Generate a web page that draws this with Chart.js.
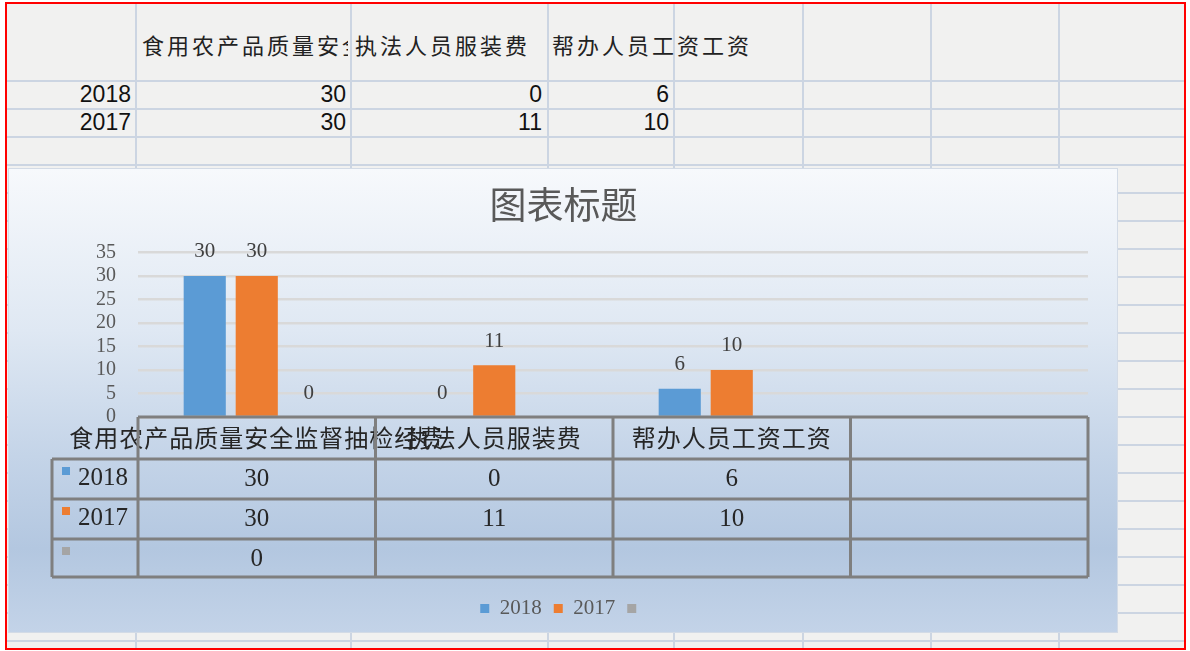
<!DOCTYPE html>
<html>
<head>
<meta charset="utf-8">
<script src="https://cdn.jsdelivr.net/npm/chart.js@4/dist/chart.umd.min.js"></script>
<style>
  body { margin: 0; width: 1190px; height: 651px; overflow: hidden; background: #fff; position: relative; }
  #sheet { position: absolute; left: 5px; top: 2px; width: 1181px; height: 648px; background: #f1f1f0; overflow: hidden; }
  .vl { position: absolute; top: 0; width: 2px; height: 100%; background: #ccd5e2; }
  .hl { position: absolute; left: 0; width: 100%; height: 2px; background: #ccd5e2; }
  .cell { position: absolute; white-space: nowrap; color: #111; }
  .num { font: 23px "Liberation Sans", Arial, sans-serif; text-align: right; }
  .cjk { font: 22px "Noto Sans CJK SC", sans-serif; letter-spacing: 3px; color: #222; overflow: hidden; }
  #redbox { position: absolute; left: 5px; top: 2px; width: 1181px; height: 648px; border: 2px solid #f00; box-sizing: border-box; pointer-events: none; }
  #frame { position: absolute; left: 8px; top: 168px; width: 1110px; height: 465px; box-sizing: border-box;
           border: 1px solid #d3dbe6;
           background: linear-gradient(to bottom, #f7f9fc 0%, #dfe8f3 35%, #c4d4e8 62%, #b3c7e0 82%, #c3d3e8 100%); }
  #wrap { position: absolute; left: 9px; top: 168px; width: 1109px; height: 465px; }
</style>
</head>
<body>
<div id="sheet"></div>
<div id="frame"></div>
<div id="wrap"><canvas id="grafico"></canvas></div>
<div id="redbox"></div>
<script>
// ── Data ─────────────────────────────────────────────────────────────
const categorias = ['食用农产品质量安全监督抽检经费', '执法人员服装费', '帮办人员工资工资', ''];
const series     = ['2018', '2017', ''];
const v2018      = [30, 0, 6, null];
const v2017      = [30, 11, 10, null];
const vExtra     = [0, null, null, null];
const yMin = 0, yMax = 35, yStep = 5;

const CORES = { blue: '#5b9bd5', orange: '#ed7d31', gray: '#a5a5a5' };
const SERIF = '"Liberation Serif", "Noto Sans CJK SC", serif';
const CJK   = '"Noto Sans CJK SC", sans-serif';

// ── Spreadsheet behind the chart ─────────────────────────────────────
(function planilha() {
  const sheet = document.getElementById('sheet');
  const ox = 5, oy = 2;
  const colLines = [135, 350, 547, 673, 802, 930, 1058];
  colLines.forEach(x => {
    const d = document.createElement('div'); d.className = 'vl'; d.style.left = (x - ox) + 'px'; sheet.appendChild(d);
  });
  for (let y = 80; y < 651; y += 28) {
    const d = document.createElement('div'); d.className = 'hl'; d.style.top = (y - oy) + 'px'; sheet.appendChild(d);
  }
  function cell(cls, text, left, top, width) {
    const d = document.createElement('div');
    d.className = 'cell ' + cls; d.textContent = text;
    d.style.left = (left - ox) + 'px'; d.style.top = (top - oy) + 'px';
    if (width) d.style.width = width + 'px';
    sheet.appendChild(d);
  }
  // header row (first label clipped by its cell, others overflow)
  cell('cjk', categorias[0], 142, 28, 206);
  cell('cjk', categorias[1], 355, 28);
  cell('cjk', categorias[2], 552, 28);
  // value rows
  const rows = [[series[0], v2018], [series[1], v2017]];
  rows.forEach(([nome, vals], r) => {
    const top = 81 + r * 28;
    cell('num', nome, 60, top, 71);
    const rights = [346, 542, 669];
    vals.slice(0, 3).forEach((v, i) => {
      cell('num', v == null ? '' : String(v), rights[i] - 100, top, 100);
    });
  });
})();

// ── Chart ─────────────────────────────────────────────────────────────
const rotulosPlugin = {
  id: 'rotulos',
  afterDatasetsDraw(chart) {
    const ctx = chart.ctx;
    ctx.save();
    ctx.font = '21px ' + SERIF;
    ctx.fillStyle = '#404040';
    ctx.textAlign = 'center';
    ctx.textBaseline = 'middle';
    chart.data.datasets.forEach((ds, di) => {
      chart.getDatasetMeta(di).data.forEach((bar, i) => {
        if (ds.data[i] == null) return;
        ctx.fillText(String(ds.data[i]), bar.x, bar.y - 24);
      });
    });
    ctx.restore();
  }
};

const tabelaPlugin = {
  id: 'tabela',
  afterDraw(chart) {
    const ctx = chart.ctx, a = chart.chartArea, x = chart.scales.x;
    const n = categorias.length;
    const colW = x.width / n;
    const edges = [];
    for (let i = 0; i <= n; i++) edges.push(x.left + i * colW);
    const x0 = 43;
    const top = a.bottom;
    const rowTops = [top, top + 42, top + 82, top + 122, top + 160];

    ctx.save();
    // header labels
    ctx.fillStyle = '#262626';
    ctx.font = '24px ' + CJK;
    ctx.letterSpacing = '1px';
    ctx.textAlign = 'center';
    ctx.textBaseline = 'middle';
    categorias.forEach((c, i) => ctx.fillText(c, (edges[i] + edges[i + 1]) / 2, top + 21));
    ctx.letterSpacing = '0px';

    // rows
    const dsets = chart.data.datasets;
    dsets.forEach((ds, r) => {
      const rt = rowTops[r + 1];
      ctx.fillStyle = ds.backgroundColor;
      ctx.fillRect(x0 + 10, rt + 8, 8, 8);
      ctx.fillStyle = '#262626';
      ctx.font = '25px ' + SERIF;
      ctx.textAlign = 'left';
      ctx.fillText(ds.label, x0 + 26, rt + 19);
      ctx.textAlign = 'center';
      ds.data.forEach((v, i) => {
        if (v == null) return;
        ctx.fillText(String(v), (edges[i] + edges[i + 1]) / 2, rt + 20);
      });
    });

    // borders
    ctx.strokeStyle = '#7f7f7f';
    ctx.lineWidth = 3;
    ctx.beginPath();
    ctx.moveTo(edges[0], top); ctx.lineTo(edges[n], top);
    rowTops.slice(1).forEach(y => { ctx.moveTo(x0, y); ctx.lineTo(edges[n], y); });
    edges.forEach(e => { ctx.moveTo(e, top); ctx.lineTo(e, rowTops[4]); });
    ctx.moveTo(x0, rowTops[1]); ctx.lineTo(x0, rowTops[4]);
    ctx.stroke();
    ctx.restore();
  }
};

new Chart(document.getElementById('grafico'), {
  type: 'bar',
  data: {
    labels: categorias,
    datasets: [
      { label: series[0], data: v2018, backgroundColor: CORES.blue },
      { label: series[1], data: v2017, backgroundColor: CORES.orange },
      { label: series[2], data: vExtra, backgroundColor: CORES.gray },
    ]
  },
  options: {
    responsive: true,
    maintainAspectRatio: false,
    animation: false,
    categoryPercentage: 0.657,
    barPercentage: 0.81,
    layout: { padding: { left: 30, right: 30, top: 0, bottom: 4 } },
    plugins: {
      title: { display: true, text: '图表标题', color: '#595959',
               font: { family: CJK, size: 37, weight: 'normal' }, padding: { top: 15, bottom: 25 } },
      legend: { position: 'bottom',
                labels: { color: '#595959', boxWidth: 9, boxHeight: 9, padding: 12,
                          font: { family: SERIF, size: 21 } } },
      tooltip: { enabled: false },
    },
    scales: {
      x: {
        ticks: { display: false },
        grid: { display: false },
        border: { display: false },
        afterFit: s => { s.height = 169; },
      },
      y: {
        min: yMin, max: yMax,
        ticks: { stepSize: yStep, autoSkip: false, padding: 22, color: '#595959', font: { family: SERIF, size: 20 } },
        grid: { color: '#d9d9d9', lineWidth: 2.5, drawTicks: false },
        border: { display: false },
        afterFit: s => { s.width = 99; },
      }
    }
  },
  plugins: [rotulosPlugin, tabelaPlugin]
});
</script>
</body>
</html>
